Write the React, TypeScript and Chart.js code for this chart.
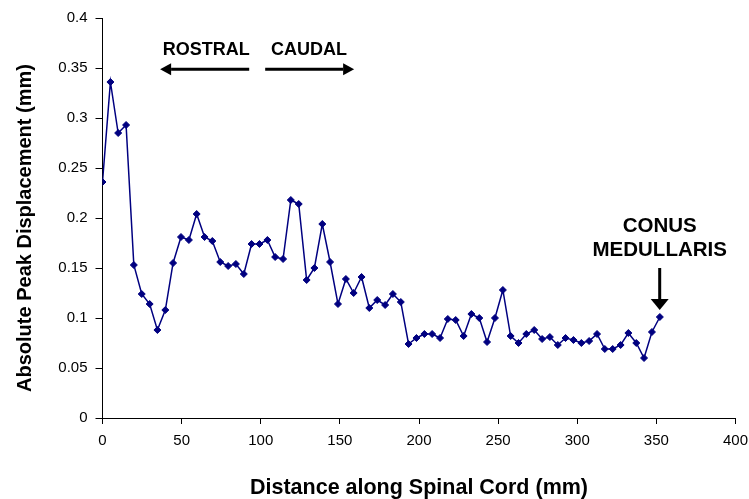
import React, { useEffect, useRef } from "react";
import { Chart, registerables } from "chart.js";

Chart.register(...registerables);

const distances: number[] = [
  0, 5.0, 9.9, 14.9, 19.8, 24.8, 29.8, 34.7, 39.7, 44.6, 49.6, 54.6, 59.5, 64.5, 69.4, 74.4, 79.4, 84.3,
  89.3, 94.2, 99.2, 104.2, 109.1, 114.1, 119.0, 124.0, 129.0, 133.9, 138.9, 143.8, 148.8, 153.8, 158.7,
  163.7, 168.6, 173.6, 178.6, 183.5, 188.5, 193.4, 198.4, 203.4, 208.3, 213.3, 218.2, 223.2, 228.2,
  233.1, 238.1, 243.0, 248.0, 253.0, 257.9, 262.9, 267.8, 272.8, 277.8, 282.7, 287.7, 292.6, 297.6,
  302.6, 307.5, 312.5, 317.4, 322.4, 327.4, 332.3, 337.3, 342.2, 347.2, 352.2,
];

const displacement: number[] = [
  0.236, 0.336, 0.285, 0.293, 0.153, 0.124, 0.114, 0.088, 0.108, 0.155, 0.181, 0.178, 0.204, 0.181,
  0.177, 0.156, 0.152, 0.154, 0.144, 0.174, 0.174, 0.178, 0.161, 0.159, 0.218, 0.214, 0.138, 0.15,
  0.194, 0.156, 0.114, 0.139, 0.125, 0.141, 0.11, 0.118, 0.113, 0.124, 0.116, 0.074, 0.08, 0.084,
  0.084, 0.08, 0.099, 0.098, 0.082, 0.104, 0.1, 0.076, 0.1, 0.128, 0.082, 0.075, 0.084, 0.088, 0.079,
  0.081, 0.073, 0.08, 0.078, 0.075, 0.077, 0.084, 0.069, 0.069, 0.073, 0.085, 0.075, 0.06, 0.086,
  0.101,
];

const xTicks: number[] = [0, 50, 100, 150, 200, 250, 300, 350, 400];
const yTicks: number[] = [0, 0.05, 0.1, 0.15, 0.2, 0.25, 0.3, 0.35, 0.4];

const xTitle = "Distance along Spinal Cord (mm)";
const yTitle = "Absolute Peak Displacement (mm)";

// annotation anchors in data units
const rostral = { label: "ROSTRAL", textX: 65.5, textY: 0.368, tail: 92.7, head: 36.4, arrowY: 0.3487 };
const caudal = { label: "CAUDAL", textX: 130.5, textY: 0.368, tail: 102.8, head: 159, arrowY: 0.3487 };
const conus = { lines: ["CONUS", "MEDULLARIS"], x: 352.1, lineY: [0.192, 0.168], arrowTop: 0.15, arrowTip: 0.108 };

const FONT = '"Liberation Sans", Arial, Helvetica, sans-serif';

function drawHArrow(ctx: CanvasRenderingContext2D, x1: number, x2: number, y: number) {
  const dir = Math.sign(x2 - x1);
  const headLen = 11;
  const headHalf = 6;
  ctx.beginPath();
  ctx.lineWidth = 3;
  ctx.moveTo(x1, y);
  ctx.lineTo(x2 - dir * headLen, y);
  ctx.stroke();
  ctx.beginPath();
  ctx.moveTo(x2, y);
  ctx.lineTo(x2 - dir * headLen, y - headHalf);
  ctx.lineTo(x2 - dir * headLen, y + headHalf);
  ctx.closePath();
  ctx.fill();
}

function drawVArrow(ctx: CanvasRenderingContext2D, x: number, y1: number, y2: number) {
  const headLen = 11;
  const headHalf = 9;
  ctx.beginPath();
  ctx.lineWidth = 3;
  ctx.moveTo(x, y1);
  ctx.lineTo(x, y2 - headLen);
  ctx.stroke();
  ctx.beginPath();
  ctx.moveTo(x, y2);
  ctx.lineTo(x - headHalf, y2 - headLen);
  ctx.lineTo(x + headHalf, y2 - headLen);
  ctx.closePath();
  ctx.fill();
}

const annotationPlugin = {
  id: "annotations",
  afterDraw(chart: any) {
    const { ctx, scales, chartArea } = chart;
    const xs = scales.x;
    const ys = scales.y;
    ctx.save();
    ctx.fillStyle = "#000";
    ctx.strokeStyle = "#000";
    ctx.textAlign = "center";
    ctx.textBaseline = "middle";

    // axis titles
    ctx.font = `bold 21.5px ${FONT}`;
    ctx.fillText(xTitle, (chartArea.left + chartArea.right) / 2, 488);
    ctx.font = `bold 20px ${FONT}`;
    ctx.save();
    ctx.translate(25, ys.getPixelForValue(0.19));
    ctx.rotate(-Math.PI / 2);
    ctx.fillText(yTitle, 0, 0);
    ctx.restore();

    // rostral / caudal
    ctx.font = `bold 18px ${FONT}`;
    for (const a of [rostral, caudal]) {
      ctx.fillText(a.label, xs.getPixelForValue(a.textX), ys.getPixelForValue(a.textY));
      drawHArrow(ctx, xs.getPixelForValue(a.tail), xs.getPixelForValue(a.head), ys.getPixelForValue(a.arrowY));
    }

    // conus medullaris
    ctx.font = `bold 20.5px ${FONT}`;
    conus.lines.forEach((t, i) => {
      ctx.fillText(t, xs.getPixelForValue(conus.x), ys.getPixelForValue(conus.lineY[i]));
    });
    drawVArrow(ctx, xs.getPixelForValue(conus.x), ys.getPixelForValue(conus.arrowTop), ys.getPixelForValue(conus.arrowTip));
    ctx.restore();
  },
};

export default function App() {
  const ref = useRef<HTMLCanvasElement | null>(null);
  useEffect(() => {
    document.body.style.margin = "0";
    if (!ref.current) return;
    const chart = new Chart(ref.current, {
      type: "line",
      data: {
        datasets: [
          {
            data: distances.map((d, i) => ({ x: d, y: displacement[i] })),
            borderColor: "#000080",
            backgroundColor: "#000080",
            borderWidth: 1.5,
            pointStyle: "rectRot",
            pointRadius: 3.5,
            pointBorderWidth: 1,
            pointBackgroundColor: "#000080",
            pointBorderColor: "#000080",
            tension: 0,
          },
        ],
      },
      options: {
        responsive: false,
        animation: false,
        layout: { padding: { top: 18, right: 13.5, left: 0, bottom: 0 } },
        plugins: { legend: { display: false }, tooltip: { enabled: false } },
        scales: {
          x: {
            type: "linear",
            min: 0,
            max: 400,
            afterBuildTicks: (s: any) => {
              s.ticks = xTicks.map((v) => ({ value: v }));
            },
            afterFit: (s: any) => {
              s.height = 81;
              s.paddingRight = 0;
              s.paddingLeft = 0;
            },
            ticks: {
              color: "#000",
              font: { family: FONT, size: 15 },
              padding: 8,
              maxRotation: 0,
              autoSkip: false,
              callback: (v: any) => String(v),
            },
            grid: { display: true, drawOnChartArea: false, drawTicks: true, tickLength: 6, color: "#000", lineWidth: 1 },
            border: { display: true, color: "#000", width: 1 },
          },
          y: {
            type: "linear",
            min: 0,
            max: 0.4,
            afterBuildTicks: (s: any) => {
              s.ticks = yTicks.map((v) => ({ value: v }));
            },
            afterFit: (s: any) => {
              s.width = 102.5;
              s.paddingTop = 0;
              s.paddingBottom = 0;
            },
            ticks: {
              color: "#000",
              font: { family: FONT, size: 15 },
              padding: 8,
              autoSkip: false,
              callback: (v: any) => String(Number(Number(v).toFixed(2))),
            },
            grid: { display: true, drawOnChartArea: false, drawTicks: true, tickLength: 7, color: "#000", lineWidth: 1 },
            border: { display: true, color: "#000", width: 1 },
          },
        },
      },
      plugins: [annotationPlugin],
    });
    return () => chart.destroy();
  }, []);
  return (
    <div style={{ width: 749, height: 499, background: "#fff" }}>
      <canvas ref={ref} width={749} height={499} style={{ display: "block" }} />
    </div>
  );
}
